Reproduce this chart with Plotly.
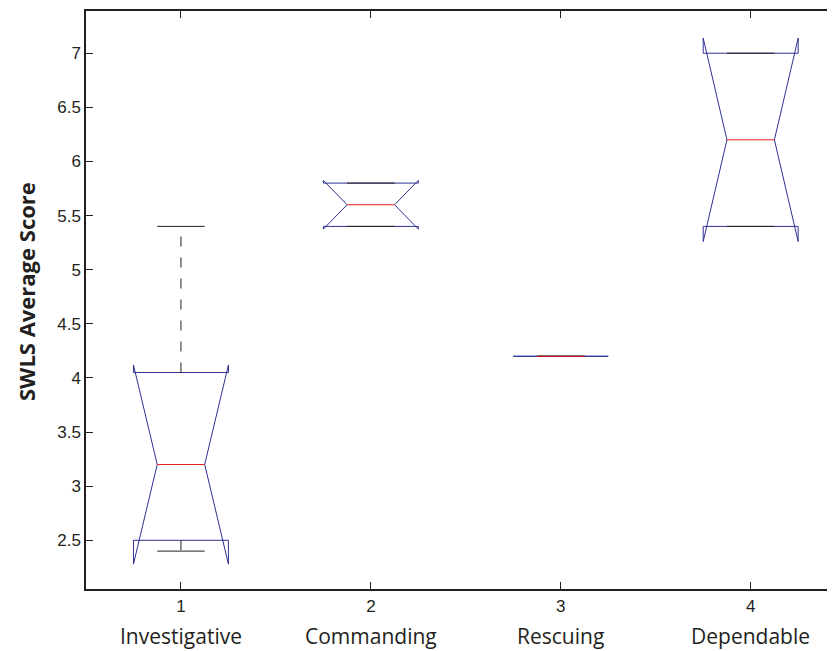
import plotly.graph_objects as go

# ---- data ----
categories = ["Investigative", "Commanding", "Rescuing", "Dependable"]
positions = [1, 2, 3, 4]
q1 = [2.5, 5.4, 4.2, 5.4]
median = [3.2, 5.6, 4.2, 6.2]
q3 = [4.05, 5.8, 4.2, 7.0]
lower_whisker = [2.4, 5.4, 4.2, 5.4]
upper_whisker = [5.4, 5.8, 4.2, 7.0]
notch_span = [0.92, 0.225, 0.0, 0.94]
y_ticks = [2.5, 3, 3.5, 4, 4.5, 5, 5.5, 6, 6.5, 7]
y_tick_text = ["2.5", "3", "3.5", "4", "4.5", "5", "5.5", "6", "6.5", "7"]

BLUE = "#2e3192"
RED = "#ed1c24"
BLACK = "#231f20"
BOX_W = 0.5
HW = BOX_W / 2          # box half-width
HALF_INNER = BOX_W / 4  # median / cap half-width

fig = go.Figure()

# notched box outlines (MATLAB style)
bx, by = [], []
for p, a, m, b, ns in zip(positions, q1, median, q3, notch_span):
    lo, hi = m - ns, m + ns
    bx += [p - HW, p - HW, p - HALF_INNER, p - HW, p - HW,
           p + HW, p + HW, p + HALF_INNER, p + HW, p + HW, p - HW, None]
    by += [a, lo, m, hi, b, b, hi, m, lo, a, a, None]
fig.add_trace(go.Scatter(x=bx, y=by, mode="lines",
                         line=dict(color=BLUE, width=1),
                         showlegend=False, hoverinfo="skip"))

# dashed whiskers
wx, wy = [], []
for p, a, b, lo, hi in zip(positions, q1, q3, lower_whisker, upper_whisker):
    if hi > b:
        wx += [p, p, None]; wy += [b, hi, None]
    if lo < a:
        wx += [p, p, None]; wy += [a, lo, None]
fig.add_trace(go.Scatter(x=wx, y=wy, mode="lines",
                         line=dict(color=BLACK, width=1, dash="10px,11px"),
                         showlegend=False, hoverinfo="skip"))

# whisker caps
cx, cy = [], []
for p, lo, hi in zip(positions, lower_whisker, upper_whisker):
    cx += [p - HALF_INNER, p + HALF_INNER, None, p - HALF_INNER, p + HALF_INNER, None]
    cy += [hi, hi, None, lo, lo, None]
fig.add_trace(go.Scatter(x=cx, y=cy, mode="lines",
                         line=dict(color=BLACK, width=1),
                         showlegend=False, hoverinfo="skip"))

# red medians
mx, my = [], []
for p, m in zip(positions, median):
    mx += [p - HALF_INNER, p + HALF_INNER, None]
    my += [m, m, None]
fig.add_trace(go.Scatter(x=mx, y=my, mode="lines",
                         line=dict(color=RED, width=1),
                         showlegend=False, hoverinfo="skip"))

# category labels under the tick numbers
for p, c in zip(positions, categories):
    fig.add_annotation(x=p, xref="x", y=0, yref="paper", yanchor="middle",
                       yshift=-47, text=c, showarrow=False, borderpad=0,
                       font=dict(family="Open Sans", size=21, color=BLACK))

fig.add_annotation(x=0, xref="paper", xanchor="center", xshift=-60,
                   y=0.5, yref="paper", yshift=8, textangle=-90,
                   text="<b>SWLS Average Score</b>", showarrow=False,
                   font=dict(family="Open Sans", size=22, color=BLACK))

# page body has an 8px default margin, so the figure is offset by 8px
fig.update_layout(
    width=827, height=643,
    margin=dict(l=78, r=0, t=3, b=62),
    paper_bgcolor="white", plot_bgcolor="white",
    font=dict(family="Liberation Sans, Arial", size=17, color=BLACK),
    xaxis=dict(range=[0.5, 4.444], tickvals=positions,
               ticktext=[str(p) for p in positions],
               ticks="inside", ticklen=7, tickcolor=BLACK, tickwidth=1,
               ticklabelstandoff=1,
               showline=True, linecolor=BLACK, linewidth=1.5, mirror="ticks",
               showgrid=False, zeroline=False),
    yaxis=dict(range=[2.05, 7.39], tickvals=y_ticks, ticktext=y_tick_text,
               ticks="inside", ticklen=7, tickcolor=BLACK, tickwidth=1,
               showline=True, linecolor=BLACK, linewidth=1.5,
               showgrid=False, zeroline=False),
)

fig.write_html("out.html")
